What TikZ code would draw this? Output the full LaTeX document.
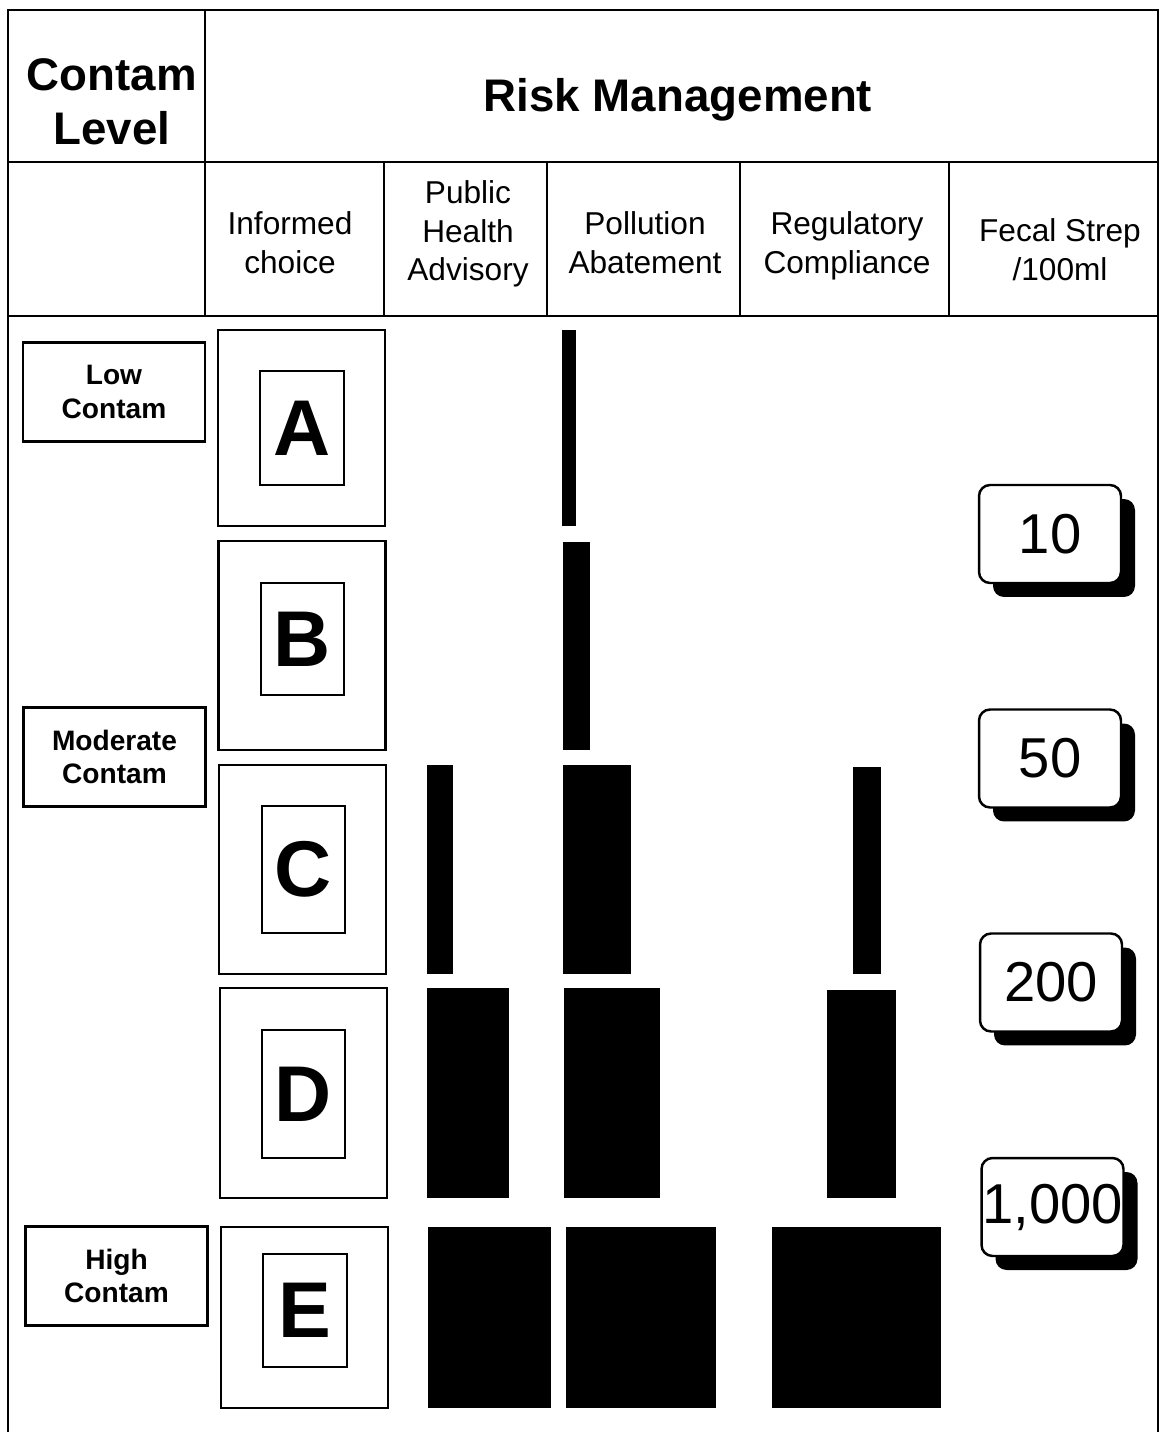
\documentclass[tikz,border=0pt]{standalone}
\usepackage{fontspec}
\setmainfont{Liberation Sans}
\usetikzlibrary{positioning, shadows}
\tikzset{
    x=0.02cm, y=-0.02cm, % one unit is one pixel of the scan, y runs down
    rule/.style={line width=1.6pt}, % lines of the table
    title/.style={font=\bfseries\fontsize{26}{31}\selectfont, align=center},
    head/.style={font=\fontsize{18}{22}\selectfont, align=center},
    level/.style={draw, line width=1.3pt, minimum width=3.64cm, minimum height=1.98cm,
        font=\bfseries\fontsize{16}{19}\selectfont, align=center}, % contamination level boxes
    frame/.style={draw, line width=1.4pt, minimum width=3.34cm}, % outer box of a letter
    letter/.style={draw, line width=1.4pt, minimum width=1.67cm, inner sep=0pt,
        font=\bfseries\fontsize{45}{45}\selectfont},
    count/.style={draw, line width=1.4pt, rounded corners=0.22cm, fill=white,
        minimum width=2.84cm, minimum height=1.96cm, inner sep=0pt,
        font=\fontsize{32}{32}\selectfont,
        drop shadow={shadow xshift=0.28cm, shadow yshift=-0.28cm, opacity=1, fill=black}},
    bar/.style={fill=black},
}

\begin{document}
\begin{tikzpicture}
    \useasboundingbox (0,0) rectangle (1161,1432);

    % table frame and header rules
    \draw[rule] (8,1432) -- (8,10) -- (1158,10) -- (1158,1432);
    \draw[rule] (8,162) -- (1158,162);
    \draw[rule] (8,316) -- (1158,316);
    \draw[rule] (205,10) -- (205,316);
    \draw[rule] (384,162) -- (384,316);
    \draw[rule] (547,162) -- (547,316);
    \draw[rule] (740,162) -- (740,316);
    \draw[rule] (949,162) -- (949,316);

    % header texts
    \node[title] (contam) at (112,102) {Contam\\Level};
    \node[title] (risk) at (678,100) {Risk Management};
    \node[head] (informed) at (290,243) {Informed\\choice};
    \node[head] (health) at (468,234) {Public\\Health\\Advisory};
    \node[head] (pollution) at (645,243) {Pollution\\Abatement};
    \node[head] (regulatory) at (847,246) {Regulatory\\Compliance};
    \node[head] (fecal) at (1060,250) {Fecal Strep\\/100ml};

    % contamination levels
    \node[level] (low) at (114,392) {Low\\Contam};
    \node[level] (moderate) at (114.5,757) {Moderate\\Contam};
    \node[level] (high) at (116.5,1276) {High\\Contam};

    % informed choice letters
    \node[frame, minimum height=3.92cm] (frameA) at (301.5,428) {};
    \node[frame, minimum height=4.18cm] (frameB) at (302,645.5) {};
    \node[frame, minimum height=4.18cm] (frameC) at (302.5,869.5) {};
    \node[frame, minimum height=4.20cm] (frameD) at (303.5,1093) {};
    \node[frame, minimum height=3.62cm] (frameE) at (304.5,1317.5) {};
    \node[letter, minimum height=2.28cm] (A) at (302,428) {A};
    \node[letter, minimum height=2.24cm] (B) at (302.5,639) {B};
    \node[letter, minimum height=2.54cm] (C) at (303.5,869.5) {C};
    \node[letter, minimum height=2.56cm] (D) at (303.5,1094) {D};
    \node[letter, minimum height=2.26cm] (E) at (305,1310.5) {E};

    % bars: public health advisory
    \fill[bar] (427,765) rectangle (453,974);
    \fill[bar] (427,988) rectangle (509,1198);
    \fill[bar] (428,1227) rectangle (551,1408);
    % bars: pollution abatement
    \fill[bar] (562,330) rectangle (576,526);
    \fill[bar] (563,542) rectangle (590,750);
    \fill[bar] (563,765) rectangle (631,974);
    \fill[bar] (564,988) rectangle (660,1198);
    \fill[bar] (566,1227) rectangle (716,1408);
    % bars: regulatory compliance
    \fill[bar] (853,767) rectangle (881,974);
    \fill[bar] (827,990) rectangle (896,1198);
    \fill[bar] (772,1227) rectangle (941,1408);

    % fecal strep thresholds
    \node[count] (f10) at (1050,534) {10};
    \node[count] (f50) at (1050,758.5) {50};
    \node[count] (f200) at (1051,982.5) {200};
    \node[count] (f1000) at (1052.5,1207) {1,000};
\end{tikzpicture}
\end{document}
